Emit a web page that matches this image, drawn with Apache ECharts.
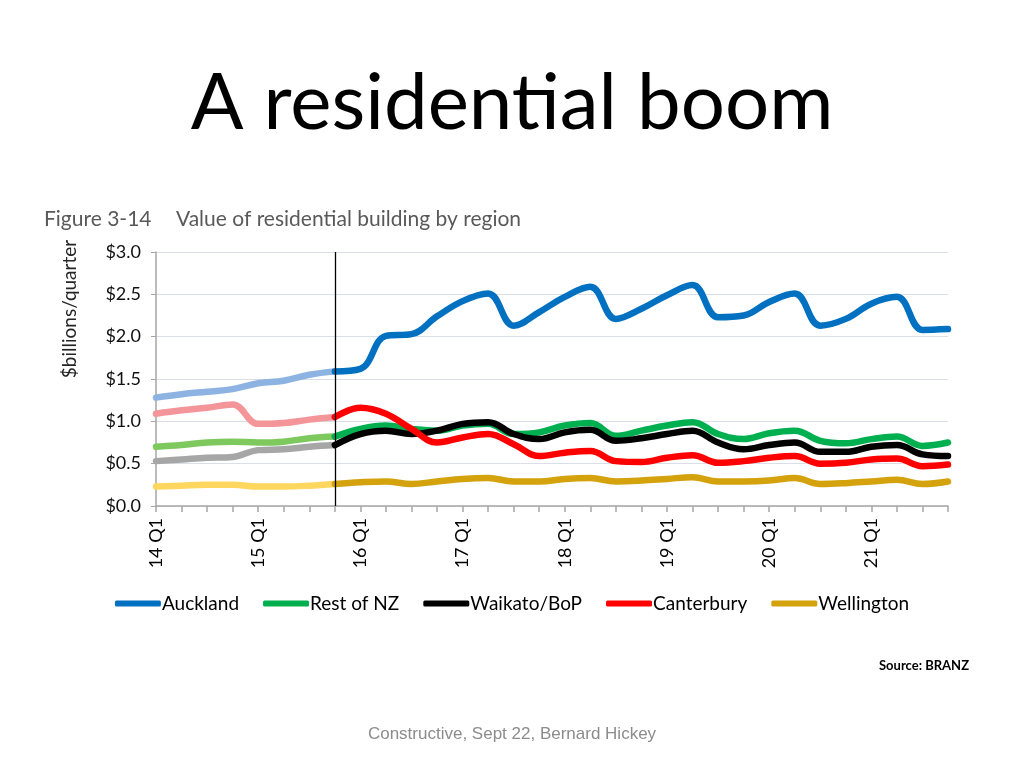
<!DOCTYPE html>
<html><head><meta charset="utf-8">
<script src="https://cdn.jsdelivr.net/npm/echarts@6/dist/echarts.min.js"></script>
<style>html,body{margin:0;padding:0;background:#fff}#c{width:1024px;height:768px}</style>
</head><body><div id="c"></div>
<script>
const quarters = [
  '14 Q1','14 Q2','14 Q3','14 Q4','15 Q1','15 Q2','15 Q3','15 Q4',
  '16 Q1','16 Q2','16 Q3','16 Q4','17 Q1','17 Q2','17 Q3','17 Q4',
  '18 Q1','18 Q2','18 Q3','18 Q4','19 Q1','19 Q2','19 Q3','19 Q4',
  '20 Q1','20 Q2','20 Q3','20 Q4','21 Q1','21 Q2','21 Q3','21 Q4'
];
const yTicks = [0, 0.5, 1.0, 1.5, 2.0, 2.5, 3.0];
const regionNames = ['Auckland', 'Rest of NZ', 'Waikato/BoP', 'Canterbury', 'Wellington'];
const lastActualQuarter = '15 Q4';

const auckland = [1.28,1.32,1.35,1.38,1.45,1.48,1.55,1.59,
  1.62,2.01,2.03,2.24,2.42,2.51,2.13,2.29,2.47,2.59,2.21,2.33,
  2.49,2.61,2.23,2.25,2.41,2.51,2.13,2.21,2.39,2.47,2.08,2.09];
const restOfNZ = [0.70,0.72,0.75,0.76,0.75,0.76,0.80,0.82,
  0.91,0.95,0.91,0.89,0.95,0.97,0.85,0.87,0.95,0.98,0.83,0.89,
  0.95,0.99,0.85,0.79,0.86,0.89,0.77,0.74,0.79,0.82,0.71,0.75];
const waikato = [0.53,0.55,0.57,0.58,0.66,0.67,0.70,0.72,
  0.85,0.89,0.85,0.89,0.97,0.99,0.85,0.79,0.87,0.90,0.77,0.80,
  0.85,0.89,0.75,0.67,0.72,0.75,0.64,0.64,0.70,0.72,0.61,0.59];
const canterbury = [1.09,1.13,1.16,1.20,0.97,0.98,1.02,1.05,
  1.16,1.09,0.91,0.75,0.81,0.85,0.73,0.59,0.63,0.65,0.53,0.52,
  0.57,0.60,0.51,0.53,0.57,0.59,0.50,0.51,0.55,0.56,0.47,0.49];
const wellington = [0.23,0.24,0.25,0.25,0.23,0.23,0.24,0.26,
  0.28,0.29,0.26,0.29,0.32,0.33,0.29,0.29,0.32,0.33,0.29,0.30,
  0.32,0.34,0.29,0.29,0.30,0.33,0.26,0.27,0.29,0.31,0.26,0.29];

const regionData = [auckland, restOfNZ, waikato, canterbury, wellington];
const darkColors = ['#0070C0', '#00B050', '#000000', '#FF0000', '#D4A20C'];
const lightColors = ['#8DB3E2', '#7DC95E', '#A6A6A6', '#F4959A', '#FFD75E'];

const splitIdx = quarters.indexOf(lastActualQuarter);
const FONT = 'Lato';
const series = [];
regionData.forEach((d, r) => {
  series.push({
    name: regionNames[r] + ' (actual)', type: 'line', smooth: 0.4, showSymbol: false,
    symbol: 'none', z: 2,
    lineStyle: { color: lightColors[r], width: 6.5, cap: 'round', join: 'round' },
    itemStyle: { color: lightColors[r] },
    data: d.map((v, i) => i <= splitIdx ? v : null)
  });
});
regionData.forEach((d, r) => {
  const s = {
    name: regionNames[r], type: 'line', smooth: 0.4, showSymbol: false,
    symbol: 'none', z: 3,
    lineStyle: { color: darkColors[r], width: 6.5, cap: 'round', join: 'round' },
    itemStyle: { color: darkColors[r] },
    data: d.map((v, i) => i >= splitIdx ? v : null)
  };
  if (r === 0) {
    s.markLine = {
      silent: true, symbol: 'none', label: { show: false },
      lineStyle: { color: '#000', width: 1.3, type: 'solid' },
      data: [{ xAxis: lastActualQuarter }]
    };
  }
  series.push(s);
});

const chart = echarts.init(document.getElementById('c'));
chart.setOption({
  backgroundColor: '#fff',
  animation: false,
  textStyle: { fontFamily: FONT },
  title: [
    { text: 'A residential boom', left: 'center', top: 60,
      textStyle: { fontFamily: FONT, fontSize: 78, fontWeight: 'normal', color: '#000' } },
    { text: 'Figure 3-14', left: 39, top: 204,
      textStyle: { fontFamily: FONT, fontSize: 21, fontWeight: 'normal', color: '#595959' } },
    { text: 'Value of residential building by region', left: 171, top: 204,
      textStyle: { fontFamily: FONT, fontSize: 21, fontWeight: 'normal', color: '#595959' } },
    { text: 'Source: BRANZ', right: 50, top: 654,
      textStyle: { fontFamily: FONT, fontSize: 13, fontWeight: 'bold', color: '#000' } },
    { text: 'Constructive, Sept 22, Bernard Hickey', left: 'center', top: 721,
      textStyle: { fontFamily: 'Liberation Sans', fontSize: 17, fontWeight: 'normal', color: '#8C8C8C' } }
  ],
  graphic: [{
    type: 'text', rotation: Math.PI / 2, x: 60, y: 309,
    style: { text: '$billions/quarter', fontFamily: FONT, fontSize: 19, fill: '#262626',
      align: 'center', verticalAlign: 'top' }
  }],
  legend: {
    data: regionNames, left: 'center', top: 589, itemGap: 24,
    icon: 'roundRect', itemWidth: 46, itemHeight: 6,
    textStyle: { fontFamily: FONT, fontSize: 19, color: '#000', padding: [0, 0, 0, -4] }
  },
  grid: { left: 156, right: 76, top: 252, bottom: 262, containLabel: false },
  xAxis: {
    type: 'category', data: quarters, boundaryGap: false,
    axisLine: { lineStyle: { color: '#A6A6A6', width: 1.5 } },
    axisTick: { show: true, interval: 0, length: 6, lineStyle: { color: '#A6A6A6', width: 1.5 } },
    axisLabel: { interval: 3, rotate: 90, margin: 12, fontFamily: FONT, fontSize: 18, color: '#000' },
    splitLine: { show: false }
  },
  yAxis: {
    type: 'value', min: yTicks[0], max: yTicks[yTicks.length - 1], interval: 0.5,
    axisLine: { show: true, lineStyle: { color: '#A6A6A6', width: 1.5 } },
    axisTick: { show: true, length: 5, lineStyle: { color: '#A6A6A6' } },
    axisLabel: { margin: 15, fontFamily: FONT, fontSize: 18, color: '#111',
      formatter: v => '$' + v.toFixed(1) },
    splitLine: { lineStyle: { color: '#D9DEE8', width: 1.2 } }
  },
  series: series
});
</script></body></html>
